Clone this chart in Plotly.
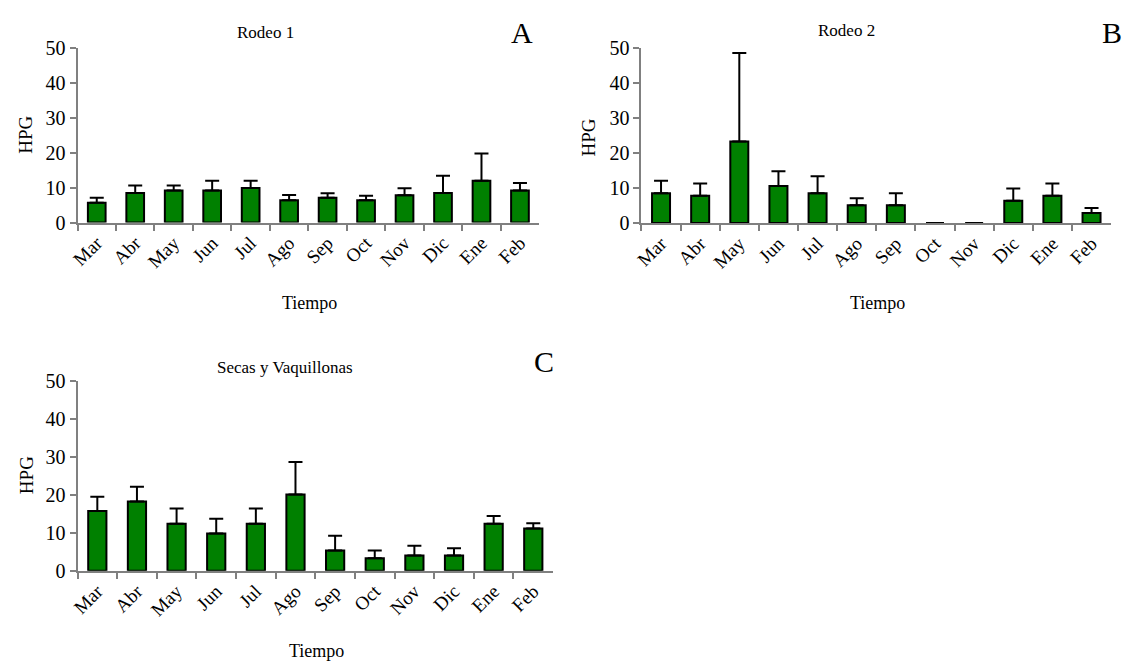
import plotly.graph_objects as go

W, H = 1126, 672

months = ["Mar", "Abr", "May", "Jun", "Jul", "Ago", "Sep", "Oct", "Nov", "Dic", "Ene", "Feb"]

# Rodeo 1: mean HPG and upper error-bar end
rodeo1_mean = [5.7, 8.5, 9.2, 9.2, 9.9, 6.4, 7.1, 6.4, 7.8, 8.5, 12.0, 9.2]
rodeo1_top = [7.1, 10.6, 10.6, 12.0, 12.0, 7.9, 8.4, 7.7, 9.8, 13.4, 19.8, 11.3]

# Rodeo 2
rodeo2_mean = [8.5, 7.8, 23.3, 10.6, 8.5, 5.1, 5.1, 0.0, 0.0, 6.4, 7.8, 2.9]
rodeo2_top = [12.1, 11.3, 48.6, 14.8, 13.4, 7.1, 8.5, 0.0, 0.0, 9.9, 11.3, 4.3]

# Secas y Vaquillonas
secas_mean = [15.7, 18.2, 12.4, 9.8, 12.4, 20.1, 5.3, 3.3, 4.0, 4.0, 12.4, 11.1]
secas_top = [19.5, 22.1, 16.4, 13.7, 16.4, 28.6, 9.2, 5.3, 6.6, 5.9, 14.4, 12.5]

panels = [
    # (title, letter, means, tops, x px range, y px range)
    ("Rodeo 1", "A", rodeo1_mean, rodeo1_top, (70, 535), (38.3, 218.7)),
    ("Rodeo 2", "B", rodeo2_mean, rodeo2_top, (638, 1111), (38.3, 219.3)),
    ("Secas y Vaquillonas", "C", secas_mean, secas_top, (70, 549), (382.3, 578.7)),
]

FONT = '"Liberation Serif", "Times New Roman", serif'
GREEN = "#008000"
AXIS_GRAY = "#808080"


def px_x(v):
    return v / W


def px_y(v):
    return 1 - v / H


fig = go.Figure()
annotations = []

# text positions (pixels) for titles, panel letters and axis titles
text_pos = [
    dict(title=(259, 22), letter=(518, 22), ytitle=(18, 128), xtitle=(304, 302)),
    dict(title=(845, 20), letter=(1112, 22), ytitle=(585, 131), xtitle=(876, 302)),
    dict(title=(279, 369), letter=(540, 362), ytitle=(18, 480), xtitle=(311, 662)),
]

for i, (title, letter, means, tops, xr, yr) in enumerate(panels):
    n = i + 1
    xa = "x" if n == 1 else f"x{n}"
    ya = "y" if n == 1 else f"y{n}"
    plus = [t - m for t, m in zip(tops, means)]
    minus = [0] * len(means)
    fig.add_trace(go.Bar(
        x=months, y=means, xaxis=xa, yaxis=ya,
        marker=dict(color=GREEN, line=dict(color="black", width=2)),
        error_y=dict(type="data", array=plus, arrayminus=minus, symmetric=False,
                     color="black", thickness=2, width=7),
        showlegend=False, hoverinfo="x+y",
    ))
    xkey = "xaxis" if n == 1 else f"xaxis{n}"
    ykey = "yaxis" if n == 1 else f"yaxis{n}"
    fig.update_layout(**{
        xkey: dict(
            domain=[px_x(xr[0]), px_x(xr[1])], anchor=ya, type="category",
            showline=True, linecolor=AXIS_GRAY, linewidth=2,
            ticks="outside", tickson="boundaries", ticklen=6, tickcolor=AXIS_GRAY,
            tickwidth=2, tickangle=-45, showgrid=False, zeroline=False,
            tickfont=dict(family=FONT, size=19, color="black"),
        ),
        ykey: dict(
            domain=[px_y(yr[1]), px_y(yr[0])], anchor=xa, range=[0, 50],
            tickvals=[0, 10, 20, 30, 40, 50],
            showline=True, linecolor=AXIS_GRAY, linewidth=2,
            ticks="outside", ticklen=6, tickcolor=AXIS_GRAY, tickwidth=2,
            showgrid=False, zeroline=False,
            tickfont=dict(family=FONT, size=20, color="black"),
        ),
    })
    tp = text_pos[i]
    annotations += [
        dict(text=title, x=px_x(tp["title"][0]), y=px_y(tp["title"][1]),
             font=dict(family=FONT, size=17, color="black")),
        dict(text=letter, x=px_x(tp["letter"][0]), y=px_y(tp["letter"][1]),
             font=dict(family=FONT, size=30, color="black")),
        dict(text="HPG", x=px_x(tp["ytitle"][0]), y=px_y(tp["ytitle"][1]), textangle=-90,
             font=dict(family=FONT, size=19, color="black")),
        dict(text="Tiempo", x=px_x(tp["xtitle"][0]), y=px_y(tp["xtitle"][1]),
             font=dict(family=FONT, size=18, color="black")),
    ]

for a in annotations:
    a.update(xref="paper", yref="paper", showarrow=False, xanchor="center", yanchor="middle")

fig.update_layout(
    width=W, height=H, margin=dict(l=0, r=0, t=0, b=0),
    paper_bgcolor="white", plot_bgcolor="white",
    font=dict(family=FONT),
    bargap=0.54, annotations=annotations,
)

fig.write_html("out.html")
